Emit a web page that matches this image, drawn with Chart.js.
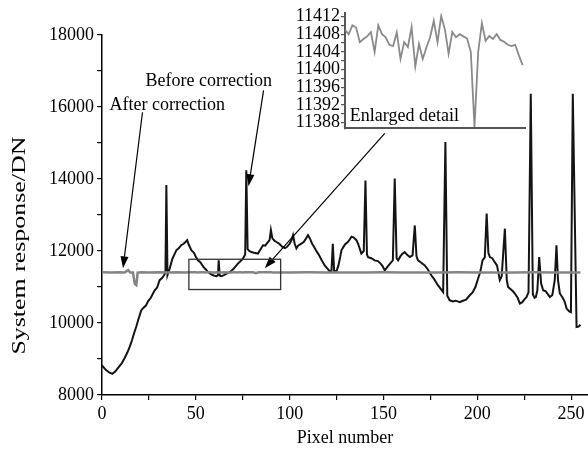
<!DOCTYPE html>
<html>
<head>
<meta charset="utf-8">
<script src="https://cdn.jsdelivr.net/npm/chart.js@4.4.1/dist/chart.umd.min.js"></script>
<style>
  html, body { margin: 0; padding: 0; background: #fff; }
  #wrap { position: relative; width: 588px; height: 449px; }
  #main { position: absolute; left: 0; top: 0; }
  #inset { position: absolute; left: 288px; top: 0; }
</style>
</head>
<body>
<div id="wrap">
  <canvas id="main" width="588" height="449"></canvas>
  <canvas id="inset" width="240" height="140"></canvas>
</div>
<script>
// Before correction (black curve), pixel number vs DN
const beforeX = [0, 2, 4, 5.5, 7, 9, 10.5, 12, 13.5, 14.7, 16, 17, 18.2, 19.5, 20.9, 22, 23.5, 24.5, 26, 28,
  29.5, 30.7, 32, 33, 33.8, 34.3, 34.9, 36, 37.5, 39.6, 41, 42.2, 43.5, 44.5, 45.4, 46.2, 47.6, 49, 50, 51.1,
  52.5, 54, 55.5, 56.4, 58, 59.5, 61, 61.8, 62.2, 62.7, 63.6, 65, 67.1, 68.5, 70, 71, 72.4, 73.5, 75.1, 76.3,
  76.9, 77.6, 78.5, 79.6, 81, 83.1, 84.5, 85.8, 87, 88.5, 89.3, 90, 90.8, 92, 93, 94.5, 96, 97.5, 98.5, 100,
  101, 101.8, 102.7, 103.6, 104.5, 106, 107.5, 108.5, 109.8, 110.8, 112, 113, 114, 115.5, 117, 118.7, 120, 121.3, 122.3, 123,
  123.7, 125, 126, 127, 127.6, 128.5, 129.5, 131, 132, 133, 134, 135.6, 136.5, 138.2, 139.5, 140.4, 141.2, 141.8, 143.5, 145.3,
  147, 148.5, 149.5, 150.7, 152, 153.5, 155, 156, 157, 157.8, 159, 160, 161.3, 162.5, 164, 165.5, 166.7, 167.6, 168.4, 170,
  172, 173.5, 175.6, 177, 179, 180.5, 181.8, 183, 184, 185.3, 187, 188.5, 190.7, 192, 194, 196, 197.5, 199, 200.4, 201.5,
  202.8, 204, 205, 205.9, 206.7, 208, 209.3, 210.5, 212, 213, 214.7, 215.7, 216.4, 217.5, 219, 220, 221.5, 222.7, 224, 225,
  226.2, 227.3, 228.5, 229.6, 230.5, 231.2, 232, 233, 234, 235.1, 236.5, 238.7, 240, 241.3, 242.2, 243, 244, 245.5, 246.5, 247.6,
  249, 249.9, 250.9, 252.9, 254, 255];
const beforeY = [8820, 8700, 8620, 8590, 8650, 8780, 8880, 9020, 9180, 9330, 9520, 9700, 9890, 10120, 10350, 10420, 10490, 10600, 10700, 10900,
  11000, 11190, 11250, 11320, 11400, 13830, 11330, 11500, 11780, 12020, 12080, 12160, 12200, 12250, 12300, 12180, 12020, 11950, 11840, 11740,
  11680, 11560, 11480, 11420, 11360, 11320, 11300, 11330, 11740, 11320, 11300, 11330, 11390, 11430, 11500, 11560, 11650, 11700, 11790, 11900,
  14240, 12050, 12000, 11970, 11950, 11930, 12050, 12160, 12150, 12250, 12300, 12580, 12350, 12280, 12250, 12200, 12120, 12080, 12110, 12200,
  12300, 12440, 12200, 12070, 12150, 12200, 12250, 12330, 12440, 12350, 12200, 12120, 12020, 11900, 11750, 11600, 11520, 11440, 11450, 12200,
  11450, 11440, 11600, 11850, 12020, 12100, 12180, 12250, 12320, 12400, 12380, 12300, 12200, 11930, 12000, 13960, 11900, 11830, 11800, 11740,
  11720, 11650, 11580, 11460, 11550, 11650, 11740, 14010, 11800, 11740, 11850, 11920, 11970, 11900, 11830, 11880, 12710, 11850, 11740, 11680,
  11600, 11500, 11320, 11220, 11050, 10950, 10860, 15030, 10760, 10630, 10600, 10620, 10580, 10610, 10650, 10770, 10850, 11000, 11230, 11400,
  11740, 11820, 13040, 11950, 11830, 11800, 11690, 11600, 11190, 11300, 12620, 11200, 11000, 10950, 10880, 10820, 10700, 10540, 10580, 10650,
  10720, 10850, 16370, 10800, 10700, 10720, 10900, 11830, 11100, 10910, 10880, 10720, 10780, 11200, 12160, 11200, 10820, 10700, 10600, 10400,
  10320, 10300, 16370, 9890, 9900, 9950];

// Enlarged detail of the corrected curve (pixels 47-95)
const insetX = [47, 48, 49, 50, 51, 52, 53, 54, 55, 56, 57, 58, 59, 60, 61, 62, 63, 64, 65, 66,
  67, 68, 69, 70, 71, 72, 73, 74, 75, 76, 77, 78, 79, 80, 81, 82, 83, 84, 85, 86,
  87, 88, 89, 90, 91, 92, 93, 94, 95];
const insetY = [11409, 11408, 11410, 11409.5, 11406.2, 11406.9, 11407.5, 11408.5, 11404, 11410, 11408, 11407.3, 11405.6, 11405.3, 11408.4, 11402.4, 11406.2, 11405.1, 11409.6, 11400.7,
  11405.8, 11402.4, 11405, 11407.3, 11411, 11406.2, 11412.1, 11409.1, 11403.6, 11408.5, 11407.3, 11408, 11407.5, 11407, 11404, 11387, 11404, 11410.5, 11406.5, 11407.6,
  11406.9, 11408, 11406.7, 11406.3, 11405.6, 11405.3, 11405.6, 11403.2, 11401];

// After correction (gray curve), outside the enlarged range
const afterLeftX = [0, 5, 9, 12, 14, 15, 16.5, 17.5, 18.3, 19, 21, 25, 30, 35, 40, 44];
const afterLeftY = [11410, 11405, 11410, 11405, 11470, 11400, 11400, 11080, 11050, 11400, 11410, 11405, 11410, 11405, 11410, 11405];
const afterRightX = [100, 110, 120, 130, 140, 150, 160, 170, 180, 190, 200, 210, 220, 230, 240, 250, 255];
const afterRightY = [11405, 11410, 11405, 11400, 11405, 11410, 11405, 11400, 11405, 11410, 11405, 11400, 11405, 11410, 11405, 11400, 11400];

// tick labels
const xTicks = [0, 50, 100, 150, 200, 250];
const yTicks = [8000, 10000, 12000, 14000, 16000, 18000];
const insetTicks = [11388, 11392, 11396, 11400, 11404, 11408, 11412];

const FONT = "'Liberation Serif', 'Times New Roman', serif";
Chart.defaults.font.family = FONT;
Chart.defaults.color = '#000';

function pts(xs, ys) {
  return xs.map((x, i) => ({ x: x, y: ys[i] }));
}

const afterX = afterLeftX.concat(insetX, afterRightX);
const afterY = afterLeftY.concat(insetY, afterRightY);

function drawArrow(ctx, x1, y1, x2, y2) {
  const a = Math.atan2(y2 - y1, x2 - x1);
  const len = 12, w = 4;
  ctx.beginPath();
  ctx.moveTo(x1, y1);
  ctx.lineTo(x2 - Math.cos(a) * len * 0.8, y2 - Math.sin(a) * len * 0.8);
  ctx.stroke();
  ctx.beginPath();
  ctx.moveTo(x2, y2);
  ctx.lineTo(x2 - Math.cos(a) * len - Math.sin(a) * w, y2 - Math.sin(a) * len + Math.cos(a) * w);
  ctx.lineTo(x2 - Math.cos(a) * len + Math.sin(a) * w, y2 - Math.sin(a) * len - Math.cos(a) * w);
  ctx.closePath();
  ctx.fill();
}

// labels, arrows, box and the stretched y title
const notes = {
  id: 'notes',
  afterDatasetsDraw(chart) {
    const { ctx, scales: { x, y } } = chart;
    ctx.save();
    ctx.fillStyle = '#000';
    ctx.strokeStyle = '#000';
    ctx.font = '18px ' + FONT;
    ctx.textBaseline = 'alphabetic';
    ctx.fillText('Before correction', x.getPixelForValue(23.2), y.getPixelForValue(16575));
    ctx.fillText('After correction', x.getPixelForValue(4), y.getPixelForValue(15908));

    ctx.lineWidth = 1.2;
    drawArrow(ctx, x.getPixelForValue(86.1), y.getPixelForValue(16464), x.getPixelForValue(78.1), y.getPixelForValue(13797));
    drawArrow(ctx, x.getPixelForValue(21.6), y.getPixelForValue(15853), x.getPixelForValue(11.2), y.getPixelForValue(11519));
    drawArrow(ctx, x.getPixelForValue(150.7), y.getPixelForValue(15269), x.getPixelForValue(86.7), y.getPixelForValue(11519));

    ctx.strokeStyle = '#333';
    ctx.lineWidth = 1.3;
    const bx1 = x.getPixelForValue(46.3), bx2 = x.getPixelForValue(95.2);
    const by1 = y.getPixelForValue(11770), by2 = y.getPixelForValue(10930);
    ctx.strokeRect(bx1, by1, bx2 - bx1, by2 - by1);

    // y axis title
    const title = 'System response/DN';
    ctx.font = '19px ' + FONT;
    ctx.textAlign = 'center';
    ctx.textBaseline = 'middle';
    const w = ctx.measureText(title).width;
    ctx.translate(20, y.getPixelForValue(12150));
    ctx.rotate(-Math.PI / 2);
    ctx.scale(218 / w, 1);
    ctx.fillText(title, 0, 0);
    ctx.restore();
  }
};

new Chart(document.getElementById('main'), {
  type: 'line',
  data: {
    datasets: [
      {
        label: 'After correction',
        data: pts(afterX, afterY),
        borderColor: '#858585',
        borderWidth: 2.5,
        pointRadius: 0,
        tension: 0
      },
      {
        label: 'Before correction',
        data: pts(beforeX, beforeY),
        borderColor: '#141414',
        borderWidth: 2,
        pointRadius: 0,
        tension: 0
      }
    ]
  },
  options: {
    responsive: false,
    animation: false,
    devicePixelRatio: 1,
    layout: { padding: { top: 35, right: 0, left: 0, bottom: 0 } },
    plugins: { legend: { display: false }, tooltip: { enabled: false } },
    scales: {
      x: {
        type: 'linear',
        min: 0,
        max: 259,
        border: { display: true, color: '#000', width: 1.5 },
        grid: { display: true, drawOnChartArea: false, drawTicks: true, tickLength: 5, color: '#000', lineWidth: 1.2 },
        ticks: {
          stepSize: 25,
          includeBounds: false,
          autoSkip: false,
          maxRotation: 0,
          padding: 3,
          color: '#000',
          font: { size: 18 },
          callback: v => xTicks.includes(v) ? String(v) : ''
        },
        title: { display: true, text: 'Pixel number', color: '#000', font: { size: 18 }, padding: { top: 0, bottom: 0 } },
        afterFit: s => { s.height = 54; }
      },
      y: {
        min: 8000,
        max: 18000,
        border: { display: true, color: '#000', width: 1.5 },
        grid: { display: true, drawOnChartArea: false, drawTicks: true, tickLength: 5, color: '#000', lineWidth: 1.2 },
        ticks: {
          stepSize: 1000,
          autoSkip: false,
          padding: 3,
          color: '#000',
          font: { size: 18 },
          callback: v => yTicks.includes(v) ? String(v) : ''
        },
        title: { display: false },
        afterFit: s => { s.width = 102; }
      }
    }
  },
  plugins: [notes]
});

const insetNote = {
  id: 'insetNote',
  afterDatasetsDraw(chart) {
    const { ctx, scales: { x, y } } = chart;
    ctx.save();
    ctx.fillStyle = '#000';
    ctx.font = '18px ' + FONT;
    ctx.fillText('Enlarged detail', x.getPixelForValue(48.3), y.getPixelForValue(11388.4));
    ctx.restore();
  }
};

new Chart(document.getElementById('inset'), {
  type: 'line',
  data: {
    datasets: [{
      data: pts(insetX, insetY),
      borderColor: '#8a8a8a',
      borderWidth: 1.8,
      pointRadius: 0,
      tension: 0
    }]
  },
  options: {
    responsive: false,
    animation: false,
    devicePixelRatio: 1,
    layout: { padding: { top: 13, right: 3, left: 0, bottom: 10 } },
    plugins: { legend: { display: false }, tooltip: { enabled: false } },
    scales: {
      x: {
        type: 'linear',
        min: 47,
        max: 95.65,
        border: { display: true, color: '#555', width: 2 },
        grid: { display: true, drawOnChartArea: false, drawTicks: false },
        ticks: { display: false },
        afterFit: s => { s.height = 0; }
      },
      y: {
        min: 11386.7,
        max: 11412.8,
        border: { display: true, color: '#555', width: 2 },
        grid: { display: true, drawOnChartArea: false, drawTicks: true, tickLength: 4, color: '#555', lineWidth: 1.2 },
        afterBuildTicks: s => {
          const t = [];
          for (let v = 11388; v <= 11412; v += 2) t.push({ value: v });
          s.ticks = t;
        },
        ticks: {
          autoSkip: false,
          padding: 1,
          color: '#000',
          font: { size: 18 },
          callback: v => insetTicks.includes(v) ? String(v) : ''
        },
        afterFit: s => { s.width = 57; }
      }
    }
  },
  plugins: [insetNote]
});
</script>
</body>
</html>
